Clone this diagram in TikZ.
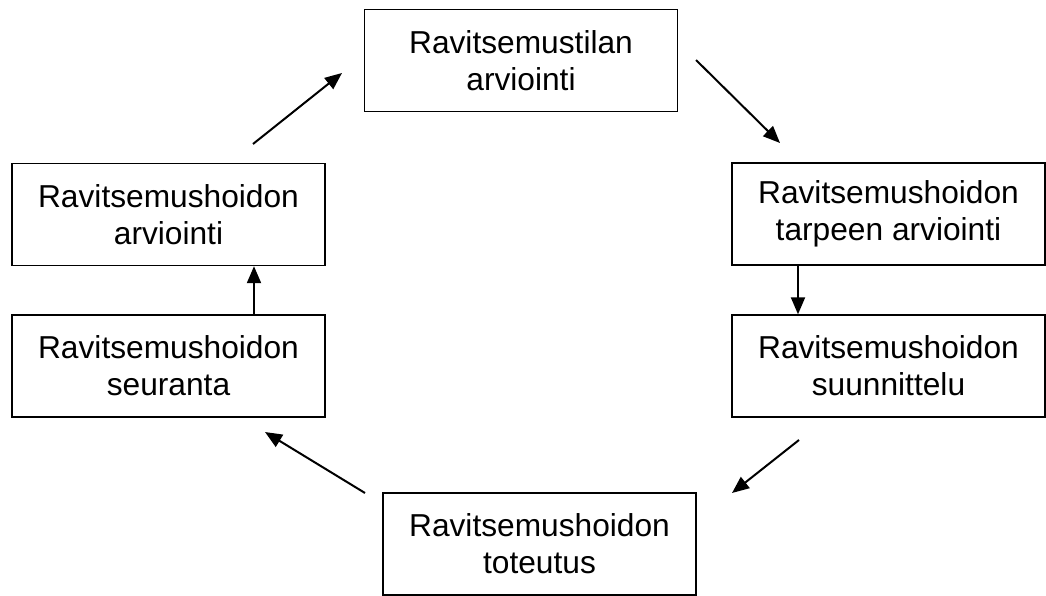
\documentclass[tikz,border=0pt]{standalone}
\usepackage{fontspec}
\setmainfont{Liberation Sans}
\usetikzlibrary{arrows.meta}
\begin{document}
\begin{tikzpicture}[x=1pt,y=-1pt,
    box/.style={draw=black,line width=1.4pt,minimum width=313pt,minimum height=102pt,
      align=center,inner sep=0pt,font=\fontsize{31.7}{37}\selectfont},
    arr/.style={draw=black,line width=2pt,-{Triangle[length=17pt,width=14pt]}}]
    \useasboundingbox (0,0) rectangle (1046,596);
    \node [box] (tilan) at (521,60.5) {Ravitsemustilan\\arviointi};
    \node [box] (tarve) at (888.5,214) {Ravitsemushoidon\\tarpeen arviointi};
    \node [box] (suunn) at (888.5,366) {Ravitsemushoidon\\suunnittelu};
    \node [box] (toteu) at (539.5,544) {Ravitsemushoidon\\toteutus};
    \node [box] (seura) at (168.5,366) {Ravitsemushoidon\\seuranta};
    \node [box] (arvio) at (168.5,214.5) {Ravitsemushoidon\\arviointi};
    \coordinate (a1s) at (253,144);
    \coordinate (a1e) at (342,73);
    \coordinate (a2s) at (696,60);
    \coordinate (a2e) at (780,143);
    \coordinate (a4s) at (799,440);
    \coordinate (a4e) at (732,493);
    \coordinate (a5s) at (365,493);
    \coordinate (a5e) at (265,432);
    \draw [arr] (a1s) -- (a1e);
    \draw [arr] (a2s) -- (a2e);
    \draw [arr] ([xshift=-90.5pt]tarve.south) -- ([xshift=-90.5pt]suunn.north);
    \draw [arr] (a4s) -- (a4e);
    \draw [arr] (a5s) -- (a5e);
    \draw [arr] ([xshift=85.5pt]seura.north) -- ([xshift=85.5pt]arvio.south);
\end{tikzpicture}
\end{document}
